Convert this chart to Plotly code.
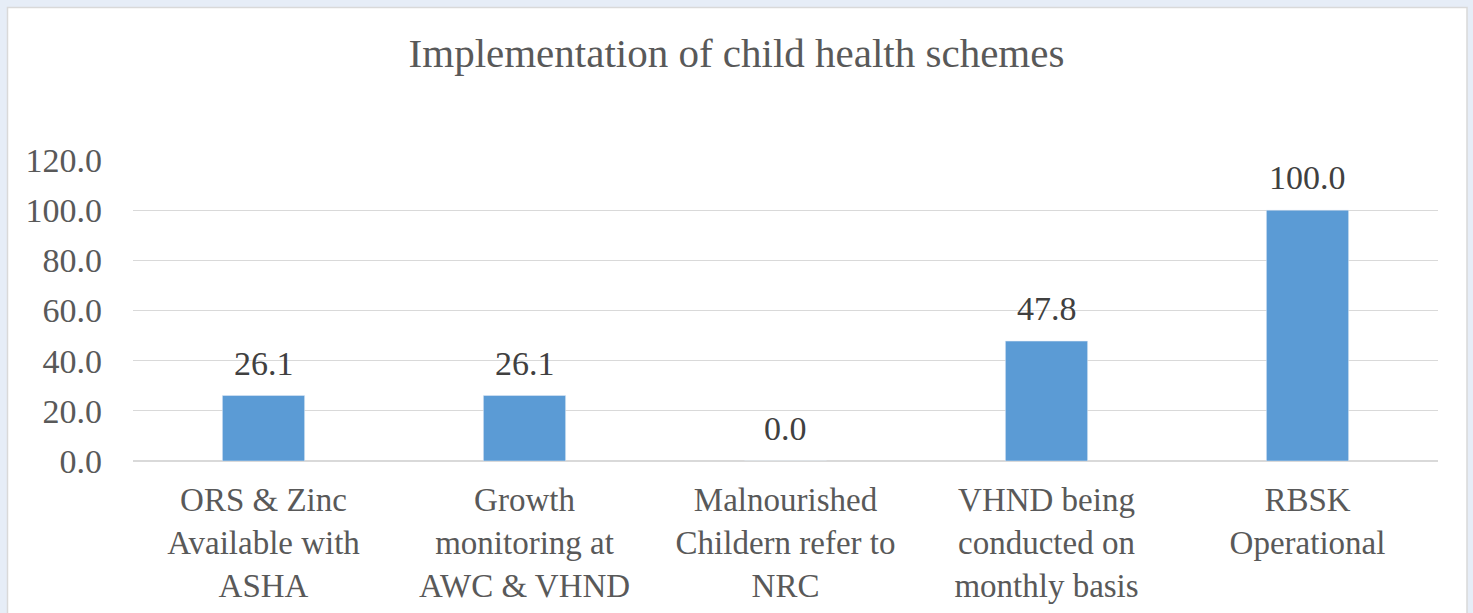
import plotly.graph_objects as go

categories = [
    "ORS & Zinc<br>Available with<br>ASHA",
    "Growth<br>monitoring at<br>AWC & VHND",
    "Malnourished<br>Childern refer to<br>NRC",
    "VHND being<br>conducted on<br>monthly basis",
    "RBSK<br>Operational",
]
values = [26.1, 26.1, 0.0, 47.8, 100.0]
tick_vals = [0, 20, 40, 60, 80, 100, 120]

FONT = "Liberation Serif"
TXT = "#595959"

L, R, T, B = 133, 35, 160, 152
W, H = 1473, 613
pw, ph = W - L - R, H - T - B

def px_x(p):
    return (p - L) / pw

def px_y(p):
    return (H - B - p) / ph

fig = go.Figure(go.Bar(
    x=categories, y=values,
    marker_color="#5B9BD5",
    cliponaxis=False,
    hoverinfo="skip",
))

annotations = [
    dict(x=c, y=v, xref="x", yref="y", text=f"{v:.1f}", showarrow=False,
         yanchor="bottom", yshift=12,
         font=dict(family=FONT, size=34, color="#404040"))
    for c, v in zip(categories, values)
]

fig.update_layout(
    width=W, height=H,
    margin=dict(l=L, r=R, t=T, b=B, autoexpand=False),
    paper_bgcolor="#e6edf7",
    plot_bgcolor="rgba(0,0,0,0)",
    bargap=0.685,
    showlegend=False,
    title=dict(text="Implementation of child health schemes", x=0.5, xanchor="center",
               y=1 - 53 / H, yanchor="middle",
               font=dict(family=FONT, size=41, color=TXT)),
    font=dict(family=FONT, color=TXT),
    annotations=annotations,
    shapes=[dict(type="rect", xref="paper", yref="paper",
                 x0=px_x(7.5), x1=px_x(1467), y0=px_y(640), y1=px_y(7.5),
                 fillcolor="white", line=dict(color="#d9d9d9", width=1.5), layer="below")],
)
fig.update_yaxes(range=[0, 120], tickvals=tick_vals, tickformat=".1f",
                 showgrid=True, gridcolor="#d9d9d9", gridwidth=1,
                 zeroline=True, zerolinecolor="#d9d9d9", zerolinewidth=1.5,
                 showline=False, ticks="", ticklabelstandoff=30, automargin=False,
                 tickfont=dict(family=FONT, size=34, color=TXT))
fig.update_xaxes(showline=False, ticks="", ticklabelstandoff=16, automargin=False,
                 tickfont=dict(family=FONT, size=33, color=TXT))

fig.write_html("out.html", config={"displayModeBar": False},
               post_script="document.body.style.margin='0';document.body.style.background='#e6edf7';")
